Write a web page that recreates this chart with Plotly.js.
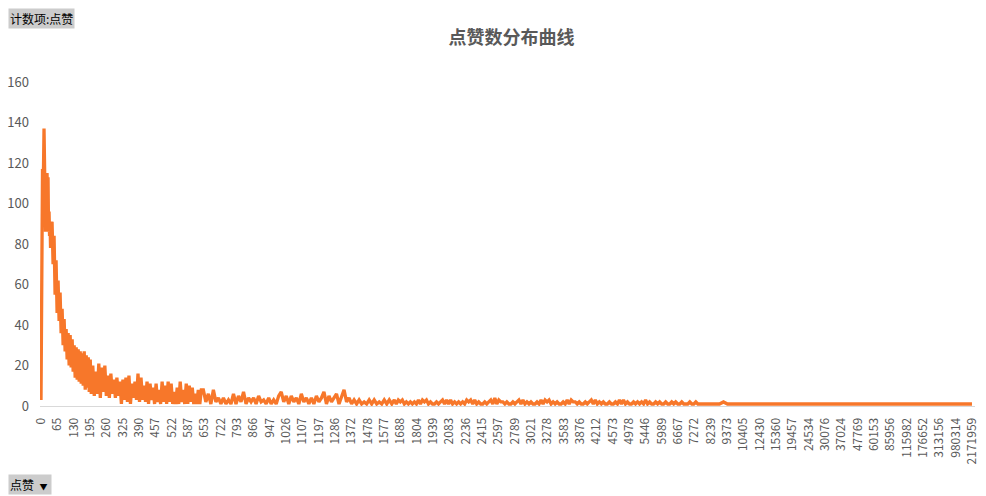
<!DOCTYPE html>
<html>
<head>
<meta charset="utf-8">
<script src="https://cdn.plot.ly/plotly-3.0.1.min.js"></script>
<style>
  html, body { margin: 0; padding: 0; background: #ffffff; }
  #chart { width: 986px; height: 496px; }
</style>
</head>
<body>
<div id="chart"></div>
<script>
// x-axis category labels (点赞 values), one label every 65 categories
const likeTickLabels = ["0","65","130","195","260","325","390","457","522","587","653","722","793","866","947","1026","1107","1197","1286","1372","1478","1577","1688","1804","1939","2083","2236","2415","2597","2789","3021","3278","3583","3876","4212","4573","4978","5446","5989","6667","7272","8239","9373","10405","12430","15360","19457","24534","30076","37024","47769","60153","85956","115982","176652","313156","980314","2171959"];
const labelEvery = 65;

// 计数项:点赞 — counts, grouped by category ranges
const seg1Counts = [3,79,78,117,113,118,137,110,88,86,105,90,115,100,113,86,96,84,91,78,89];
const seg2Counts = [91,70,84,55,72,46,62,42,56,36,48,30,43,27,38,23,36,20,35,19,33,17,30,14,29,13,28,12,27,11,26,10,27,8,25,9,24,7,23,6];
const seg3Counts = [20,5,17,6,21,4,19,7,20,5,15,4,16,6,13,4,14,5,12,1,13,3,14,2,15,1,11,4,12,3,16,2,14,3,10,2,12,1,11,3,9,1,11,2,8,1,12,2,10,1,12,2,11,1,7,1,9,1,12,2,8,1,11,1,10,2,9,1,6,1,8,1,8];
const seg4Counts = [8,2,6,1,8,2,4,1,4,1,3,1,6,1,5,2,7,1,4,2,4,1,5,2,3,1,4,1,3,1,5,7,2,5,1,5,2,4,1,6,2,4,1,4,1,5,2,4,7,1,5,2,4,6,1,4,8,2,4,1,3,1,3,1,2,1,3,1,3,1,2,1,3,1,3,1];
const seg5Counts = [
  3,1,3,2,3,1,2,1,2,1, 2,1,3,1,3,2,3,1,2,1, 1,2,1,2,3,1,3,1,3,1, 2,1,2,1,2,1,3,2,3,1,
  3,1,2,1,1,2,1,2,3,1, 4,1,3,2,2,1,2,1,1,2, 1,2,3,1,3,1,2,1,2,1, 1,2,1,3,1,3,2,3,1,2,
  1,2,1,1,2,1,3,1,3,2, 2,1,2,1,1,2,1,2,3,1, 3,1,2,1,2,1,1,2,1,1, 2,1,3,1,3,1,2,1,1,2,
  1,2,1,2,1,3,1,2,1,1, 2,1,2,1,1,2,1,1,2,1, 2,1,1,2,1,1,1,2,1,1, 2,1
];
const tailCategories = [2622, 2700, 2716, 2732, 3705];
const tailCounts = [1, 1, 2, 1, 1];

// segment: first category index, category step, counts
const segments = [
  {start: 0, step: 2, counts: seg1Counts},
  {start: 44, step: 4, counts: seg2Counts},
  {start: 206, step: 6, counts: seg3Counts},
  {start: 646, step: 10, counts: seg4Counts},
  {start: 1406, step: 8, counts: seg5Counts}
];

const xs = [], ys = [];
segments.forEach(s => s.counts.forEach((c, i) => { xs.push(s.start + s.step * i); ys.push(c); }));
tailCategories.forEach((c, i) => { xs.push(c); ys.push(tailCounts[i]); });

const FONT = '"Noto Sans CJK SC", "Microsoft YaHei", sans-serif';
const L = 40, R = 11, T = 82, B = 90, W = 986, H = 496;
const pw = W - L - R, ph = H - T - B;
const px2x = p => (p - L) / pw;
const py2y = p => (H - B - p) / ph;

const trace = {
  x: xs, y: ys, type: 'scatter', mode: 'lines',
  line: {color: '#f7772a', width: 3.3},
  hoverinfo: 'skip', showlegend: false
};

const layout = {
  width: W, height: H,
  margin: {l: L, r: R, t: T, b: B, pad: 0},
  paper_bgcolor: '#ffffff', plot_bgcolor: '#ffffff',
  font: {family: FONT, color: '#595959'},
  title: {
    text: '<b>点赞数分布曲线</b>',
    font: {family: FONT, size: 18, color: '#595959'},
    xref: 'container', yref: 'container',
    x: 511.5 / W, y: 1 - 38 / H, xanchor: 'center', yanchor: 'middle'
  },
  xaxis: {
    range: [-4, 3717],
    tickvals: likeTickLabels.map((_, i) => i * labelEvery),
    ticktext: likeTickLabels,
    tickangle: -90,
    tickfont: {family: FONT, size: 12, color: '#595959'},
    ticks: '', showgrid: false, zeroline: false,
    showline: true, linecolor: '#d9d9d9', linewidth: 1,
    ticklabelstandoff: 6, fixedrange: true
  },
  yaxis: {
    range: [0, 160],
    tickvals: [0, 20, 40, 60, 80, 100, 120, 140, 160],
    tickfont: {family: FONT, size: 13, color: '#595959'},
    ticks: '', showgrid: false, zeroline: false, showline: false,
    ticklabelstandoff: 10, fixedrange: true
  },
  annotations: [
    {
      text: '计数项:点赞', xref: 'paper', yref: 'paper',
      x: px2x(8), y: py2y(8), xanchor: 'left', yanchor: 'top',
      showarrow: false, bgcolor: '#cccccc', borderpad: 1,
      font: {family: FONT, size: 12, color: '#000000'}
    },
    {
      text: '点赞 &nbsp;<span style="font-size:8px">▼</span> ', xref: 'paper', yref: 'paper',
      x: px2x(8), y: py2y(474), xanchor: 'left', yanchor: 'top',
      showarrow: false, bgcolor: '#cccccc', borderpad: 1,
      font: {family: FONT, size: 12, color: '#000000'}
    }
  ]
};

Plotly.newPlot('chart', [trace], layout, {displayModeBar: false, staticPlot: true});
</script>
</body>
</html>
